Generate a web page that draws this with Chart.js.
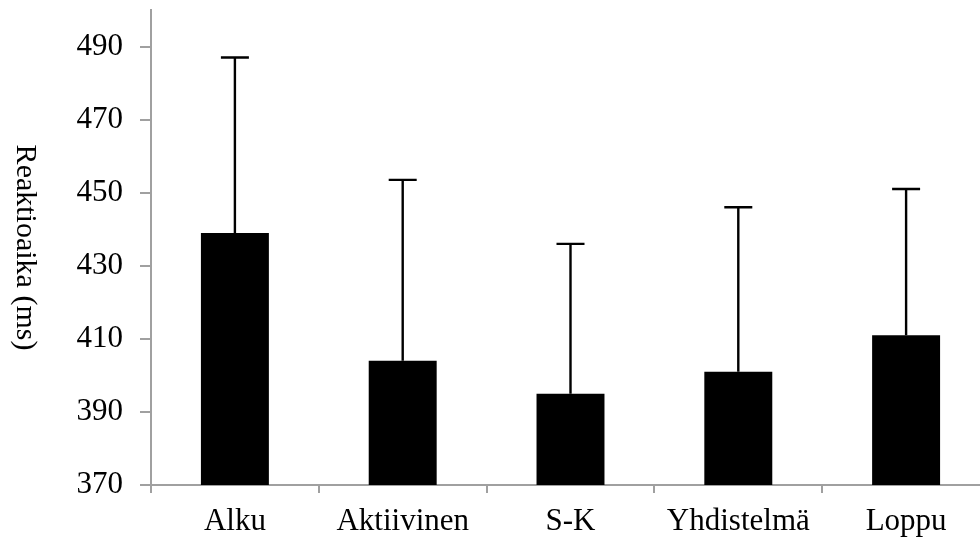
<!DOCTYPE html>
<html>
<head>
<meta charset="utf-8">
<script src="https://cdn.jsdelivr.net/npm/chart.js@4"></script>
<style>
  html, body { margin: 0; padding: 0; background: #fff; overflow: hidden; }
</style>
</head>
<body>
<canvas id="chart" width="1000" height="540"></canvas>
<script>
// Reaction times per condition (ms), mean and SD
const categories = ['Alku', 'Aktiivinen', 'S-K', 'Yhdistelmä', 'Loppu'];
const means = [439, 404, 395, 401, 411];
const sds = [48, 49.5, 41, 45, 40];
const yTicks = [370, 390, 410, 430, 450, 470, 490];
const yTitle = 'Reaktioaika (ms)';

const axisGrey = '#a0a0a0';
const serif = "'Liberation Serif', 'Times New Roman', serif";

// draws the upper half of the error bars from the y scale
const errorBars = {
    id: 'errorBars',
    afterDatasetsDraw(chart) {
        const ctx = chart.ctx;
        const meta = chart.getDatasetMeta(0);
        const y = chart.scales.y;
        ctx.save();
        ctx.strokeStyle = '#000';
        ctx.lineWidth = 2.4;
        meta.data.forEach((bar, i) => {
            const yTop = y.getPixelForValue(means[i] + sds[i]);
            const yBase = y.getPixelForValue(means[i]);
            ctx.beginPath();
            ctx.moveTo(bar.x, yBase);
            ctx.lineTo(bar.x, yTop);
            ctx.moveTo(bar.x - 14, yTop);
            ctx.lineTo(bar.x + 14, yTop);
            ctx.stroke();
        });
        ctx.restore();
    }
};

// y title reads top to bottom, so it is drawn by hand
const sideTitle = {
    id: 'sideTitle',
    afterDraw(chart) {
        const ctx = chart.ctx;
        const area = chart.chartArea;
        ctx.save();
        ctx.translate(25, (area.top + area.bottom) / 2);
        ctx.rotate(Math.PI / 2);
        ctx.font = '30px ' + serif;
        ctx.fillStyle = '#000';
        ctx.textAlign = 'center';
        ctx.textBaseline = 'middle';
        ctx.fillText(yTitle, 0, 0);
        ctx.restore();
    }
};

new Chart(document.getElementById('chart').getContext('2d'), {
    type: 'bar',
    data: {
        labels: categories,
        datasets: [{
            data: means,
            backgroundColor: '#000',
            borderWidth: 0,
            barPercentage: 0.405,
            categoryPercentage: 1,
        }],
    },
    options: {
        responsive: false,
        animation: false,
        layout: { padding: { top: 10, right: 10, left: 0, bottom: 0 } },
        plugins: {
            legend: { display: false },
            tooltip: { enabled: false },
        },
        scales: {
            x: {
                afterFit(scale) {
                    scale.height = 55;
                    scale.paddingLeft = 0;
                    scale.paddingRight = 0;
                },
                grid: {
                    drawOnChartArea: false,
                    color: axisGrey,
                    lineWidth: 2,
                    tickLength: 8,
                },
                border: { color: axisGrey, width: 2 },
                ticks: {
                    color: '#000',
                    padding: 10,
                    font: { family: serif, size: 31 },
                },
            },
            y: {
                min: 370,
                max: 500,
                afterFit(scale) {
                    scale.width = 151;
                    scale.paddingTop = 0;
                    scale.paddingBottom = 0;
                },
                afterBuildTicks(scale) { scale.ticks = yTicks.map(v => ({ value: v })); },
                grid: {
                    drawOnChartArea: false,
                    color: axisGrey,
                    lineWidth: 2,
                    tickLength: 11,
                },
                border: { color: axisGrey, width: 2 },
                ticks: {
                    color: '#000',
                    padding: 17,
                    font: { family: serif, size: 31 },
                },
            },
        },
    },
    plugins: [errorBars, sideTitle],
});
</script>
</body>
</html>
